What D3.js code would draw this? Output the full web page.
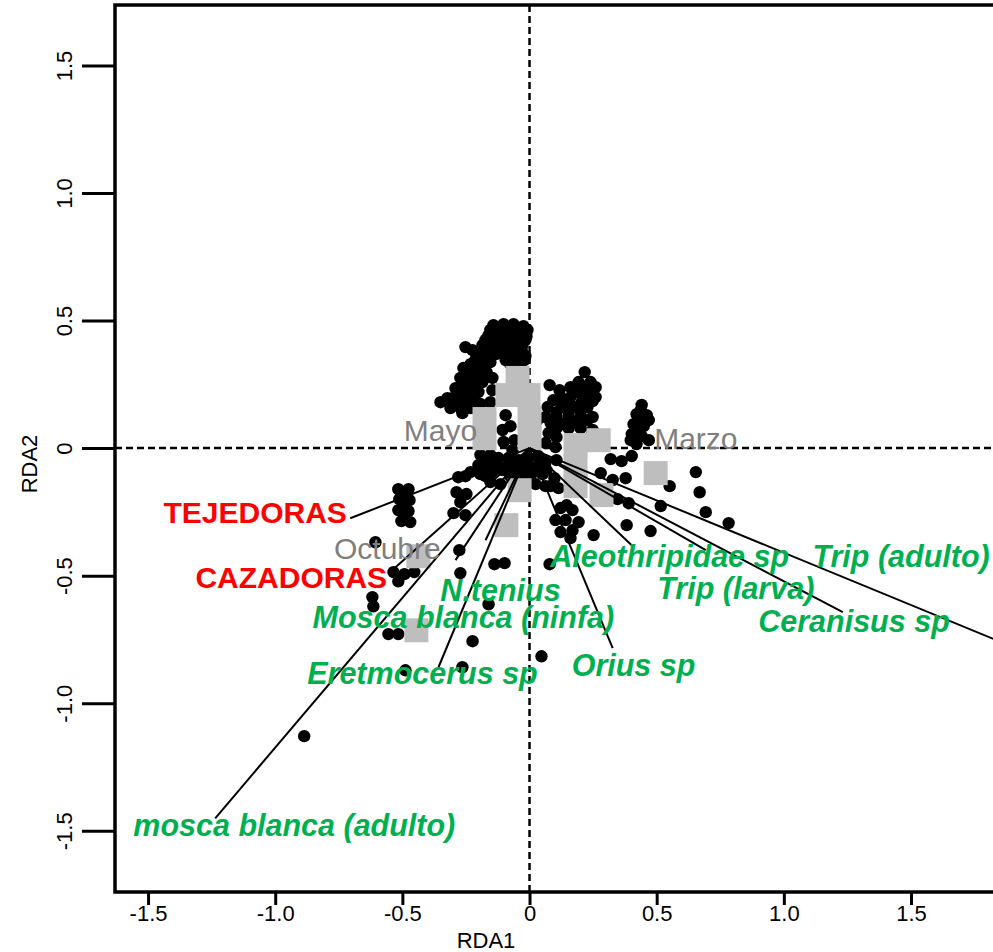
<!DOCTYPE html>
<html>
<head>
<meta charset="utf-8">
<script src="https://cdn.jsdelivr.net/npm/d3@7"></script>
<style>
body { margin: 0; background: #fff; }
svg { display: block; font-family: "Liberation Sans", Arial, sans-serif; }
</style>
</head>
<body>
<div class="chart"></div>
<script>
// sample scores (black dots), RDA1 / RDA2
var sampleScores = [
  [-0.142,0.482],[-0.102,0.486],[-0.063,0.486],[-0.024,0.478],
  [-0.154,0.463],[-0.114,0.463],[-0.075,0.463],[-0.035,0.463],[-0.008,0.463],
  [-0.161,0.443],[-0.122,0.447],[-0.083,0.447],[-0.043,0.447],[-0.012,0.439],
  [-0.173,0.424],[-0.134,0.424],[-0.094,0.424],[-0.055,0.424],[-0.016,0.424],
  [-0.185,0.404],[-0.146,0.408],[-0.106,0.408],[-0.067,0.408],[-0.028,0.404],[-0.252,0.396],
  [-0.224,0.384],[-0.189,0.384],[-0.150,0.384],[-0.110,0.384],[-0.071,0.384],[-0.031,0.384],
  [-0.209,0.365],[-0.169,0.369],[-0.130,0.369],[-0.091,0.365],[-0.051,0.369],[-0.016,0.361],
  [-0.213,0.345],[-0.173,0.345],[-0.094,0.345],[-0.055,0.345],[-0.020,0.345],
  [-0.232,0.329],[-0.193,0.329],[-0.154,0.337],[-0.075,0.329],[-0.035,0.333],
  [-0.260,0.314],[-0.220,0.314],[-0.181,0.314],
  [-0.248,0.294],[-0.209,0.294],[-0.169,0.298],
  [-0.272,0.275],[-0.232,0.275],[-0.193,0.275],[-0.146,0.275],
  [-0.264,0.255],[-0.224,0.255],[-0.185,0.259],
  [-0.291,0.235],[-0.252,0.235],[-0.213,0.235],[-0.146,0.227],
  [-0.280,0.216],[-0.240,0.216],[-0.201,0.220],[-0.323,0.196],
  [-0.303,0.196],[-0.264,0.196],[-0.224,0.196],
  [-0.287,0.176],[-0.248,0.176],[-0.350,0.180],[-0.154,0.180],[-0.193,0.173],
  [-0.311,0.157],[-0.272,0.157],[-0.232,0.157],[-0.264,0.137],
  [-0.094,0.129],[-0.075,0.086],[-0.059,0.031],
  [-0.106,0.071],[-0.102,0.024],[-0.067,-0.008],[0.031,0.110],
  [-0.193,-0.027],[-0.154,-0.027],
  [-0.201,-0.067],[-0.161,-0.055],[-0.122,-0.039],[-0.083,-0.039],[-0.043,-0.047],[-0.004,-0.039],[0.035,-0.031],[0.063,-0.055],
  [-0.181,-0.071],[-0.126,-0.071],[-0.087,-0.071],[-0.047,-0.071],[-0.008,-0.071],[0.031,-0.071],
  [-0.232,-0.094],[-0.193,-0.102],[-0.146,-0.094],[-0.106,-0.086],[-0.067,-0.094],[-0.028,-0.086],[0.012,-0.094],[0.051,-0.102],
  [-0.252,-0.110],[-0.173,-0.110],[-0.075,-0.110],[-0.035,-0.110],[0.004,-0.110],
  [-0.280,-0.114],[-0.154,-0.133],[-0.114,-0.141],[0.024,-0.141],[0.063,-0.149],
  [-0.287,-0.173],[-0.248,-0.180],[-0.272,-0.212],[-0.299,-0.255],[-0.252,-0.263],
  [-0.516,-0.161],[-0.476,-0.161],[-0.512,-0.200],[-0.472,-0.204],[-0.516,-0.243],[-0.476,-0.247],[-0.504,-0.286],[-0.469,-0.290],
  [-0.496,-0.180],[-0.496,-0.224],[-0.492,-0.267],
  [-0.606,-0.369],[-0.276,-0.400],[-0.535,-0.486],[-0.492,-0.494],[-0.453,-0.486],[-0.516,-0.522],
  [-0.272,-0.490],[-0.138,-0.455],[-0.098,-0.451],[-0.618,-0.584],[-0.614,-0.620],
  [-0.555,-0.729],[-0.516,-0.729],[-0.488,-0.871],[-0.264,-0.859],[-0.224,-0.757],[-0.161,-0.612],
  [0.047,-0.816],[-0.886,-1.129],
  [0.083,-0.149],[0.114,-0.157],[0.122,-0.235],[0.169,-0.243],[0.142,-0.282],[0.193,-0.290],
  [0.146,-0.224],[0.169,-0.322],[0.102,-0.282],
  [0.122,-0.329],[0.161,-0.353],[0.079,-0.455],[0.252,-0.341],
  [0.217,0.298],[0.193,0.259],[0.240,0.259],[0.185,0.220],[0.232,0.220],[0.205,0.180],[0.248,0.184],
  [0.161,0.239],[0.213,0.239],[0.260,0.239],
  [0.122,0.200],[0.161,0.200],[0.209,0.200],[0.260,0.200],
  [0.071,0.161],[0.126,0.161],[0.173,0.161],[0.228,0.161],
  [0.063,0.122],[0.106,0.122],[0.154,0.122],[0.201,0.122],[0.248,0.122],
  [0.106,0.078],[0.154,0.078],[0.201,0.078],[0.106,0.043],[0.240,0.043],
  [0.079,0.247],[0.118,0.227],[0.094,0.188],[0.142,0.184],[0.106,0.141],[0.154,0.141],[0.201,0.145],
  [0.083,0.098],[0.130,0.094],[0.181,0.102],[0.228,0.110],[0.075,0.059],[0.248,0.071],
  [0.063,0.020],[0.102,0.004],[0.106,-0.047],[0.067,-0.086],[0.098,-0.118],
  [0.441,0.169],[0.421,0.133],[0.461,0.129],[0.409,0.094],[0.449,0.086],[0.402,0.055],[0.441,0.047],[0.421,0.016],
  [0.437,0.149],[0.429,0.110],[0.469,0.110],[0.425,0.071],[0.398,0.031],[0.469,0.031],
  [0.319,-0.043],[0.362,-0.051],[0.402,-0.031],[0.378,-0.118],[0.327,-0.125],[0.280,-0.098],
  [0.346,-0.200],[0.390,-0.216],[0.382,-0.302],[0.476,-0.325],[0.516,-0.227],[0.551,-0.149],
  [0.654,-0.094],[0.669,-0.173],[0.693,-0.251],[0.783,-0.294]
];

// site scores (grey squares)
var siteScores = [
  [-0.047,0.275],[-0.087,0.208],[-0.004,0.208],[0.000,0.118],[0.000,0.039],
  [-0.177,0.114],[-0.177,0.039],[-0.039,-0.165],[-0.091,-0.302],
  [0.181,0.012],[0.181,-0.071],[0.181,-0.149],[0.272,0.031],[0.283,-0.184],
  [0.496,-0.098],[-0.437,-0.424],[-0.445,-0.714]
];

var monthNames = ["Mayo", "Marzo", "Octubre"];
var monthPos = [[-0.350,0.071],[0.654,0.039],[-0.559,-0.392]];

var guildNames = ["TEJEDORAS", "CAZADORAS"];
var guildTips = [[-0.705,-0.275],[-0.539,-0.478]];
var guildLabelPos = [[-1.079,-0.251],[-0.937,-0.506]];

var speciesNames = ["mosca blanca (adulto)", "Eretmocerus sp", "Mosca blanca (ninfa)", "N.tenius",
                    "Orius sp", "Aleothripidae sp", "Trip (larva)", "Ceranisus sp", "Trip (adulto)"];
var speciesTips = [[-1.236,-1.451],[-0.358,-0.859],[-0.291,-0.439],[-0.173,-0.361],
                   [0.327,-0.784],[0.409,-0.388],[0.693,-0.400],[1.232,-0.643],[2.0,-0.82]];
var speciesLabelPos = [[-0.925,-1.478],[-0.421,-0.882],[-0.260,-0.663],[-0.114,-0.557],
                       [0.409,-0.851],[0.551,-0.424],[0.811,-0.549],[1.276,-0.678],[1.461,-0.424]];

var xTicks = [-1.5, -1, -0.5, 0, 0.5, 1, 1.5],
    xTickLabels = ["-1.5", "-1.0", "-0.5", "0", "0.5", "1.0", "1.5"],
    yTicks = [-1.5, -1, -0.5, 0, 0.5, 1, 1.5],
    yTickLabels = ["-1.5", "-1.0", "-0.5", "0", "0.5", "1.0", "1.5"];

var outerWidth = 993,
    outerHeight = 952,
    margin = {left: 115, top: 5, right: -7, bottom: 60},
    x = d3.scaleLinear().domain([-1.63, 1.85]).range([margin.left, outerWidth - margin.right]),
    y = d3.scaleLinear().domain([-1.74, 1.737]).range([outerHeight - margin.bottom, margin.top]);

var svg = d3.select(".chart").append("svg")
    .attr("width", outerWidth)
    .attr("height", outerHeight);

svg.append("defs").append("clipPath")
    .attr("id", "plotClip")
  .append("rect")
    .attr("x", x.range()[0])
    .attr("y", y.range()[1])
    .attr("width", x.range()[1] - x.range()[0])
    .attr("height", y.range()[0] - y.range()[1]);

var plot = svg.append("g").attr("clip-path", "url(#plotClip)");

// zero lines
plot.append("line")
    .attr("x1", x(0)).attr("x2", x(0))
    .attr("y1", y.range()[1]).attr("y2", y.range()[0])
    .style("stroke", "#000").style("stroke-width", 2.5).style("stroke-dasharray", "7,4");
plot.append("line")
    .attr("x1", x.range()[0]).attr("x2", x.range()[1])
    .attr("y1", y(0)).attr("y2", y(0))
    .style("stroke", "#000").style("stroke-width", 2.5).style("stroke-dasharray", "7,4");

plot.selectAll(".sample")
    .data(sampleScores)
  .enter().append("circle")
    .attr("class", "sample")
    .attr("cx", function(d) { return x(d[0]); })
    .attr("cy", function(d) { return y(d[1]); })
    .attr("r", 6.2)
    .style("fill", "#000");

plot.selectAll(".site")
    .data(siteScores)
  .enter().append("rect")
    .attr("class", "site")
    .attr("x", function(d) { return x(d[0]) - 12; })
    .attr("y", function(d) { return y(d[1]) - 12; })
    .attr("width", 24)
    .attr("height", 24)
    .style("fill", "#bebebe");

// arrows (plain lines from the origin)
plot.selectAll(".arrow")
    .data(guildTips.concat(speciesTips))
  .enter().append("line")
    .attr("class", "arrow")
    .attr("x1", x(0)).attr("y1", y(0))
    .attr("x2", function(d) { return x(d[0]); })
    .attr("y2", function(d) { return y(d[1]); })
    .style("stroke", "#000")
    .style("stroke-width", 2);

plot.selectAll(".month")
    .data(monthNames)
  .enter().append("text")
    .attr("class", "month")
    .attr("x", function(d, i) { return x(monthPos[i][0]); })
    .attr("y", function(d, i) { return y(monthPos[i][1]); })
    .attr("dy", "0.35em")
    .attr("text-anchor", "middle")
    .style("font-size", "30px")
    .style("fill", "#7f7f7f")
    .text(function(d) { return d; });

plot.selectAll(".guild")
    .data(guildNames)
  .enter().append("text")
    .attr("class", "guild")
    .attr("x", function(d, i) { return x(guildLabelPos[i][0]); })
    .attr("y", function(d, i) { return y(guildLabelPos[i][1]); })
    .attr("dy", "0.35em")
    .attr("text-anchor", "middle")
    .style("font-size", "30px")
    .style("font-weight", "bold")
    .style("fill", "#ff0000")
    .text(function(d) { return d; });

plot.selectAll(".species")
    .data(speciesNames)
  .enter().append("text")
    .attr("class", "species")
    .attr("x", function(d, i) { return x(speciesLabelPos[i][0]); })
    .attr("y", function(d, i) { return y(speciesLabelPos[i][1]); })
    .attr("dy", "0.35em")
    .attr("text-anchor", "middle")
    .style("font-size", "30.5px")
    .style("font-weight", "bold")
    .style("font-style", "italic")
    .style("fill", "#00b050")
    .text(function(d) { return d; });

// frame
svg.append("rect")
    .attr("x", x.range()[0])
    .attr("y", y.range()[1])
    .attr("width", x.range()[1] - x.range()[0])
    .attr("height", y.range()[0] - y.range()[1])
    .style("fill", "none")
    .style("stroke", "#000")
    .style("stroke-width", 3.5);

// axes
var xAxis = d3.axisBottom(x)
    .tickValues(xTicks)
    .tickSize(13)
    .tickFormat(function(d, i) { return xTickLabels[i]; });

var yAxis = d3.axisLeft(y)
    .tickValues(yTicks)
    .tickSize(33)
    .tickFormat(function(d, i) { return yTickLabels[i]; });

var gx = svg.append("g")
    .attr("transform", "translate(0," + y.range()[0] + ")")
    .call(xAxis);
gx.select(".domain").remove();
gx.selectAll("line").style("stroke-width", 3);
gx.selectAll("text")
    .attr("y", 29).attr("dy", 0)
    .style("font-size", "22px")
    .style("fill", "#000");

var gy = svg.append("g")
    .attr("transform", "translate(" + x.range()[0] + ",0)")
    .call(yAxis);
gy.select(".domain").remove();
gy.selectAll("line").style("stroke-width", 3);
gy.selectAll("text")
    .attr("x", 0).attr("y", -43).attr("dy", 0)
    .attr("transform", "rotate(-90)")
    .attr("text-anchor", "middle")
    .style("font-size", "22px")
    .style("fill", "#000");

svg.append("text")
    .attr("x", 486)
    .attr("y", 948)
    .attr("text-anchor", "middle")
    .style("font-size", "22px")
    .text("RDA1");

svg.append("text")
    .attr("transform", "translate(37,464) rotate(-90)")
    .attr("text-anchor", "middle")
    .style("font-size", "22px")
    .text("RDA2");
</script>
</body>
</html>
